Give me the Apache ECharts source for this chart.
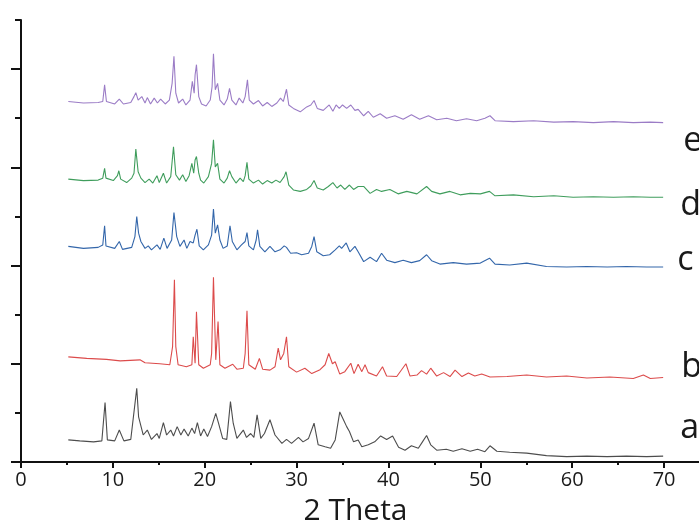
<!DOCTYPE html>
<html>
<head>
<meta charset="utf-8">
<script src="https://cdn.jsdelivr.net/npm/echarts@6/dist/echarts.min.js"></script>
<style>
  html, body { margin: 0; padding: 0; background: #fff; }
  #xrdChart { width: 699px; height: 527px; }
</style>
</head>
<body>
<div id="xrdChart"></div>
<script>
// XRD patterns, [2theta, intensity offset]
var patternA = [
  [5.15,45],[6.4,43],[7.9,41],[8.8,43],[9.15,121],[9.4,45],[10.2,43],[10.7,65],[11.2,43],[11.95,46],
  [12.6,150],[12.8,92],[13.3,55],[13.75,65],[14.2,46],[14.8,58],[15.05,48],[15.5,80],[15.85,55],[16.3,65],
  [16.6,53],[17.0,72],[17.4,55],[17.75,67],[18.2,53],[18.6,69],[18.9,58],[19.2,80],[19.55,53],[19.9,67],
  [20.3,52],[20.75,72],[21.2,99],[21.5,79],[21.95,48],[22.4,46],[22.8,123],[23.1,79],[23.5,48],[24.2,65],
  [24.55,50],[25.0,58],[25.35,50],[25.7,96],[26.1,48],[26.5,58],[27.1,86],[27.65,55],[28.4,38],[28.9,46],
  [29.45,38],[30.2,50],[30.7,41],[31.3,48],[31.9,79],[32.35,35],[33.1,31],[33.7,28],[34.2,45],[34.7,102],
  [35.1,86],[35.45,72],[35.75,62],[36.2,41],[36.7,45],[37.1,31],[37.8,35],[38.5,41],[39.15,53],[39.8,46],
  [40.45,53],[41.1,30],[41.8,24],[42.5,33],[43.25,28],[43.7,41],[44.15,54],[44.6,35],[45.25,24],[46.3,26],
  [47.05,22],[48.0,27],[48.9,22],[49.7,26],[50.5,21],[51.05,33],[51.8,22],[53.2,20],[55.05,18],[57.2,13],
  [59.4,11],[61.6,12],[63.8,11],[65.9,12],[68.1,11],[69.9,12]
];
var patternB = [
  [5.15,214],[7.15,211],[9.3,209],[10.8,206],[12.95,208],[13.5,202],[15.1,200],[16.2,198],[16.5,235],[16.7,371],
  [16.85,235],[17.1,198],[18.0,194],[18.6,198],[18.75,255],[18.95,201],[19.1,306],[19.35,198],[19.85,191],[20.6,198],
  [20.75,221],[20.95,376],[21.2,208],[21.45,286],[21.65,198],[22.2,191],[23.05,199],[23.5,189],[24.2,191],[24.4,221],
  [24.6,308],[24.8,198],[25.5,189],[25.95,211],[26.3,189],[27.1,187],[27.65,194],[28.0,232],[28.25,208],[28.6,221],
  [28.9,255],[29.15,194],[30.0,183],[30.9,191],[31.65,180],[32.55,188],[33.1,198],[33.5,221],[33.9,200],[34.2,204],
  [34.7,179],[35.25,184],[35.9,201],[36.25,180],[36.7,199],[37.1,184],[37.45,198],[37.8,182],[38.7,175],[39.35,194],
  [39.8,175],[40.9,174],[41.9,200],[42.35,175],[43.1,177],[43.6,186],[44.15,179],[44.6,191],[45.25,175],[46.0,182],
  [46.7,174],[47.25,187],[48.0,174],[48.7,181],[49.4,175],[50.15,179],[51.05,173],[52.9,174],[55.05,177],[57.2,173],
  [59.4,175],[61.6,171],[64.1,173],[66.65,170],[67.75,177],[68.5,170],[69.9,172]
];
var patternC = [
  [5.15,439],[6.8,435],[8.4,437],[8.9,442],[9.1,481],[9.25,440],[10.2,435],[10.7,449],[11.05,433],[12.05,437],
  [12.4,459],[12.6,500],[12.8,466],[13.05,449],[13.5,435],[13.85,440],[14.2,432],[14.8,442],[15.15,433],[15.55,456],
  [15.9,435],[16.4,452],[16.65,508],[16.95,459],[17.3,439],[17.75,452],[18.05,435],[18.4,449],[18.75,446],[18.95,462],
  [19.15,474],[19.4,440],[19.85,432],[20.4,442],[20.75,462],[20.95,515],[21.15,466],[21.4,483],[21.65,452],[22.0,435],
  [22.45,440],[22.75,481],[23.0,449],[23.5,432],[24.0,442],[24.4,449],[24.6,467],[24.8,440],[25.3,432],[25.6,452],
  [25.75,473],[26.0,439],[26.55,428],[27.1,439],[27.65,428],[28.2,432],[28.65,440],[28.9,437],[29.35,425],[30.0,426],
  [30.55,422],[31.3,425],[31.65,439],[31.9,459],[32.2,428],[32.9,420],[33.6,422],[34.2,432],[34.65,440],[34.9,435],
  [35.4,446],[35.8,428],[36.35,439],[36.7,428],[37.3,408],[38.0,417],[38.7,408],[39.25,425],[39.8,411],[40.7,406],
  [41.6,411],[42.5,406],[43.4,410],[44.15,422],[44.7,410],[45.6,403],[47.05,406],[48.5,403],[50.0,405],[51.0,415],
  [51.6,403],[53.2,401],[55.05,405],[57.2,398],[59.4,397],[61.6,398],[63.8,397],[65.9,398],[68.1,397],[69.9,397]
];
var patternD = [
  [5.15,576],[6.8,573],[8.4,574],[8.9,578],[9.1,598],[9.25,578],[10.05,573],[10.5,583],[10.65,593],[10.85,576],
  [11.5,569],[12.05,578],[12.3,588],[12.5,637],[12.75,591],[13.05,578],[13.5,569],[13.95,576],[14.35,568],[14.8,583],
  [15.05,569],[15.5,588],[15.85,568],[16.3,581],[16.6,642],[16.85,585],[17.25,574],[17.6,585],[17.95,571],[18.3,583],
  [18.6,608],[18.8,588],[18.95,615],[19.1,622],[19.35,588],[19.55,574],[19.9,568],[20.4,581],[20.75,608],[20.95,656],
  [21.15,601],[21.4,608],[21.65,576],[22.1,568],[22.45,578],[22.7,593],[22.95,581],[23.4,568],[23.85,578],[24.2,571],
  [24.4,583],[24.6,610],[24.8,576],[25.3,568],[25.85,574],[26.3,566],[26.8,573],[27.3,568],[27.75,574],[28.2,569],
  [28.65,581],[28.85,591],[29.15,564],[29.65,554],[30.4,551],[31.1,555],[31.55,562],[31.9,573],[32.25,558],[32.9,554],
  [33.45,561],[33.95,569],[34.4,558],[34.8,564],[35.25,555],[35.75,564],[36.2,555],[36.7,561],[37.3,561],[38.0,547],
  [38.7,555],[39.25,551],[40.15,555],[41.05,546],[42.0,551],[43.1,546],[44.15,561],[44.7,551],[45.6,546],[46.7,551],
  [47.8,544],[48.9,547],[50.0,546],[51.0,551],[51.6,542],[53.6,544],[55.8,540],[58.0,542],[60.1,539],[62.3,540],
  [64.5,539],[66.65,540],[68.5,539],[69.9,539]
];
var patternE = [
  [5.15,734],[6.8,731],[8.4,732],[8.9,734],[9.1,768],[9.3,734],[10.2,729],[10.7,739],[11.15,729],[11.95,732],
  [12.3,744],[12.5,752],[12.75,737],[13.15,744],[13.5,731],[13.75,742],[14.1,729],[14.5,741],[14.85,731],[15.2,739],
  [15.7,729],[16.15,737],[16.45,771],[16.65,826],[16.85,751],[17.15,731],[17.6,739],[17.95,727],[18.4,737],[18.65,775],
  [18.85,751],[18.95,788],[19.1,809],[19.35,744],[19.65,729],[20.15,725],[20.6,737],[20.8,764],[20.95,831],[21.15,758],
  [21.4,771],[21.65,737],[22.1,727],[22.45,739],[22.7,761],[22.95,737],[23.4,727],[23.75,741],[24.15,731],[24.4,744],
  [24.65,778],[24.85,737],[25.3,729],[25.85,736],[26.3,725],[26.8,732],[27.3,724],[27.85,731],[28.25,741],[28.55,734],
  [28.9,759],[29.15,727],[29.65,720],[30.4,713],[31.1,723],[31.55,727],[31.9,736],[32.25,720],[32.9,716],[33.55,727],
  [33.95,714],[34.3,727],[34.65,720],[35.0,727],[35.45,720],[35.9,727],[36.35,716],[36.7,718],[37.3,705],[37.8,714],
  [38.35,702],[39.1,709],[39.8,700],[40.7,705],[41.6,698],[42.5,707],[43.4,698],[44.35,705],[45.25,697],[46.35,700],
  [47.4,695],[48.5,699],[49.6,695],[50.5,700],[51.05,705],[51.6,695],[53.6,693],[55.8,695],[58.0,692],[60.1,693],
  [62.3,691],[64.5,693],[66.65,691],[68.5,692],[69.9,691]
];
var sampleNames = ["a", "b", "c", "d", "e"];
var xMajorTicks = [0, 10, 20, 30, 40, 50, 60, 70];
var xMinorTicks = [5, 15, 25, 35, 45, 55, 65];
var yMajorTicks = [0, 200, 400, 600, 800];
var yMinorTicks = [100, 300, 500, 700, 900];

var chart = echarts.init(document.getElementById("xrdChart"), null, { renderer: "canvas" });

function pattern(name, data, color, offset) {
  return {
    name: name,
    type: "line",
    data: data,
    showSymbol: false,
    smooth: false,
    lineStyle: { color: color, width: 1.1 },
    endLabel: {
      show: true,
      formatter: "{a}",
      offset: offset,
      align: "left",
      verticalAlign: "middle",
      fontFamily: "Open Sans",
      fontSize: 34,
      color: "#1a1a1a",
    },
    emphasis: { disabled: true },
  };
}

var axisFont = { fontFamily: "Open Sans", fontSize: 20, color: "#1a1a1a" };

var option = {
  animation: false,
  grid: { left: 21, top: 20, width: 689, height: 442, outerBoundsMode: "none" },
  xAxis: [
    {
      type: "value",
      min: 0,
      max: 75,
      name: "2 Theta",
      nameLocation: "middle",
      nameGap: 34,
      nameTextStyle: { fontFamily: "Open Sans", fontSize: 30, color: "#1a1a1a", padding: [0, 20, 0, 0] },
      axisLine: { show: true, lineStyle: { color: "#111", width: 2 } },
      axisTick: { show: true, customValues: xMajorTicks, length: 6, lineStyle: { color: "#111", width: 2 } },
      axisLabel: Object.assign({ customValues: xMajorTicks, margin: 8 }, axisFont),
      splitLine: { show: false },
    },
    {
      type: "value",
      min: 0,
      max: 75,
      position: "bottom",
      axisLine: { show: false },
      axisTick: { show: true, customValues: xMinorTicks, length: 3, lineStyle: { color: "#111", width: 2 } },
      axisLabel: { show: false },
      splitLine: { show: false },
    },
  ],
  yAxis: [
    {
      type: "value",
      min: 0,
      max: 900,
      axisLine: { show: true, lineStyle: { color: "#111", width: 2 } },
      axisTick: { show: true, customValues: yMajorTicks, length: 10, lineStyle: { color: "#111", width: 2 } },
      axisLabel: { show: false },
      splitLine: { show: false },
    },
    {
      type: "value",
      min: 0,
      max: 900,
      position: "left",
      offset: 0,
      axisLine: { show: false },
      axisTick: { show: true, customValues: yMinorTicks, length: 6, lineStyle: { color: "#111", width: 2 } },
      axisLabel: { show: false },
      splitLine: { show: false },
    },
  ],
  series: [
    pattern(sampleNames[0], patternA, "#4d4d4d", [9, -28]),
    pattern(sampleNames[1], patternB, "#dc4b4b", [10, -10]),
    pattern(sampleNames[2], patternC, "#3366aa", [6, -7]),
    pattern(sampleNames[3], patternD, "#3f9d5c", [9, 8]),
    pattern(sampleNames[4], patternE, "#9b7cc6", [12, 19]),
  ],
};
chart.setOption(option);
</script>
</body>
</html>
